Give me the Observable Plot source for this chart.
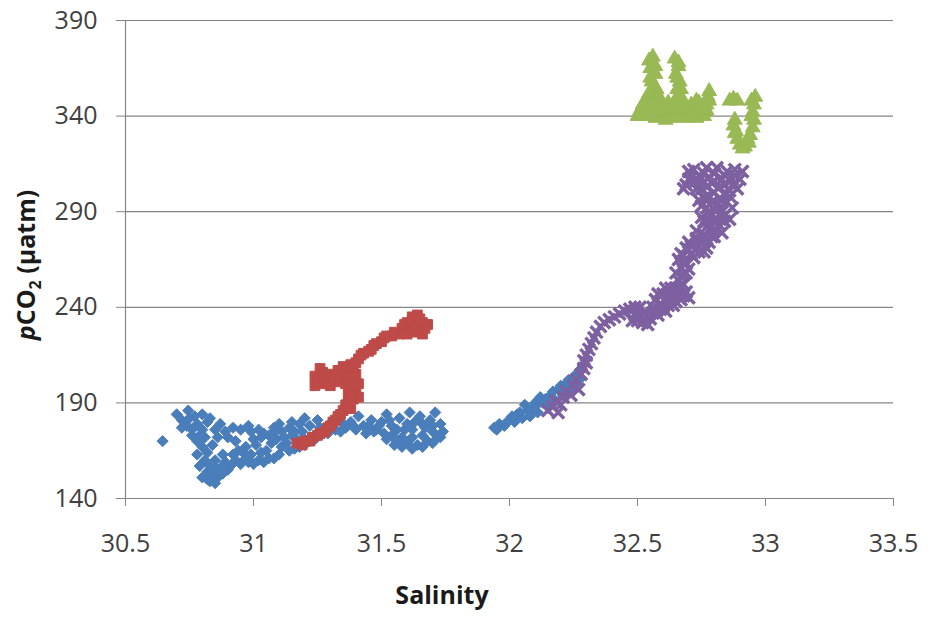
<!DOCTYPE html>
<html><head><meta charset="utf-8">
<script src="https://cdn.jsdelivr.net/npm/d3@7"></script>
<script src="https://cdn.jsdelivr.net/npm/@observablehq/plot@0.6"></script>
<style>body{margin:0;background:#fff;}</style>
</head><body><div id="chart"></div>
<script>
const xTicks = [30.5, 31, 31.5, 32, 32.5, 33, 33.5];
const yTicks = [140, 190, 240, 290, 340, 390];

// Series 1 (blue diamonds): [salinity, pCO2]
const blueSeries = [
  [30.645,170],[30.70,184],[30.72,181],[30.745,186],[30.77,183],[30.80,184],[30.82,180],[30.76,176],[30.79,173],
  [30.85,176],[30.89,175],[30.92,177],[30.95,176],[30.98,178],[30.87,179],[30.74,178],
  [30.78,170],[30.80,167],[30.78,163],[30.81,160],[30.79,157],[30.82,154],[30.80,151],[30.83,149],[30.85,148],
  [30.86,151],[30.84,153],[30.83,157],[30.82,164],[30.84,168],[30.81,172],
  [30.87,156],[30.89,159],[30.91,157],[30.93,160],[30.95,158],[30.97,161],[30.90,155],
  [30.98,159],[30.99,163],[30.97,167],[31.00,171],[30.99,175],
  [31.02,160],[31.03,164],[31.01,168],[31.03,172],[31.02,176],
  [31.06,161],[31.05,165],[31.07,169],[31.06,173],[31.08,177],
  [31.10,163],[31.11,167],[31.09,171],[31.11,175],[31.10,179],
  [31.14,165],[31.13,169],[31.15,173],[31.14,177],[31.15,180],
  [31.18,167],[31.17,171],[31.19,175],[31.18,179],[31.20,182],
  [30.72,177],[30.75,182],[30.78,179],[30.83,182],[30.80,176],[30.76,173],[30.86,172],[30.90,172],[30.93,170],
  [30.94,165],[30.96,164],[30.92,163],[30.88,163],[30.85,160],[30.82,150],[30.86,155],[30.88,153],[31.00,158],
  [31.04,159],[31.08,161],[31.04,174],[31.08,175],[31.12,172],[31.16,175],[31.20,171],[31.16,166],[31.20,168],
  [31.22,170],[31.24,171],
  [31.22,178],[31.25,181],[31.27,176],[31.30,179],[31.33,182],[31.36,177],[31.38,180],[31.41,183],[31.43,178],
  [31.46,181],[31.48,176],[31.50,180],[31.52,184],[31.54,178],[31.57,182],[31.59,176],[31.61,185],[31.63,180],
  [31.65,183],[31.67,177],[31.69,181],[31.71,185],[31.73,179],[31.74,175],[31.72,172],[31.70,175],[31.68,170],
  [31.66,173],[31.64,168],[31.62,172],[31.60,169],[31.58,172],[31.56,170],[31.54,173],[31.51,174],[31.47,175],
  [31.44,174],[31.40,176],[31.34,175],[31.29,174],[31.24,173],
  [31.26,177],[31.32,176],[31.35,179],[31.39,178],[31.45,178],[31.49,178],[31.53,181],[31.56,176],[31.60,179],
  [31.62,176],[31.66,179],[31.70,178],[31.58,167],[31.62,166],[31.66,167],[31.70,169],[31.73,172],[31.55,168],
  [31.52,171],
  [31.94,177],[31.96,179],[31.98,178],[32.00,181],[32.02,180],[32.03,184],[32.05,182],[32.07,186],[32.08,183],
  [32.10,188],[32.11,185],[32.13,190],[32.15,188],[32.16,194],[32.18,191],[32.19,197],[32.21,194],[32.22,200],
  [32.24,197],[32.25,203],[32.26,200],[32.27,206],[32.28,203],[32.06,189],[32.12,193],
  [31.95,176],[31.99,180],[32.01,183],[32.04,185],[32.09,187],[32.14,192],[32.17,196],[32.20,199],[32.23,202],
  [32.26,205],[32.28,208],[32.10,190]
];

// Series 2 (red squares)
const redSeries = [
  [31.17,169],[31.20,170],[31.23,172],[31.26,174],[31.29,177],[31.31,180],[31.33,183],[31.35,186],
  [31.36,189],[31.38,187],[31.39,192],[31.37,195],[31.40,197],[31.41,193],
  [31.24,199],[31.27,200],[31.30,199],[31.33,201],[31.36,200],[31.39,202],[31.24,204],[31.27,206],
  [31.30,205],[31.33,207],[31.36,206],[31.40,205],[31.30,202],
  [31.38,210],[31.41,213],[31.43,216],[31.46,218],[31.48,221],[31.51,224],[31.54,225],[31.57,226],
  [31.58,229],[31.61,228],[31.64,227],[31.67,229],[31.60,232],[31.63,231],[31.66,232],[31.62,235],[31.64,236],
  [31.19,168],[31.22,170],[31.25,173],[31.28,175],[31.30,178],[31.32,181],[31.34,184],[31.37,190],[31.38,194],
  [31.39,198],[31.25,201],[31.28,203],[31.34,204],[31.37,203],[31.41,200],[31.26,208],[31.35,209],[31.39,208],
  [31.40,211],[31.42,215],[31.45,217],[31.47,220],[31.50,222],[31.52,225],[31.55,227],[31.59,231],[31.62,233],
  [31.65,234],[31.68,231],[31.66,226],[31.60,226]
];

// Series 3 (green triangles)
const greenSeries = [
  [32.545,369],[32.56,371],[32.55,365],[32.57,362],[32.555,358],[32.575,354],[32.56,350],[32.58,347],
  [32.645,370],[32.66,366],[32.65,362],[32.665,358],[32.655,354],[32.67,350],[32.66,346],[32.675,342],
  [32.51,343],[32.52,346],[32.53,340],[32.55,343],[32.57,339],[32.59,341],[32.61,338],[32.62,342],[32.60,345],
  [32.63,339],[32.65,341],[32.68,339],[32.69,343],[32.70,340],[32.54,348],[32.50,340],
  [32.72,343],[32.73,339],[32.75,344],[32.76,340],[32.77,346],[32.775,350],[32.78,353],[32.765,342],[32.74,347],
  [32.86,348],[32.875,349],[32.89,348],
  [32.96,350],[32.955,346],[32.95,342],[32.955,338],[32.95,334],[32.94,330],[32.935,326],[32.92,324],
  [32.90,325],[32.89,328],[32.88,331],[32.875,335],
  [32.55,360],[32.57,366],[32.565,356],[32.58,351],[32.545,352],[32.66,368],[32.655,360],[32.67,354],[32.68,346],
  [32.655,350],[32.52,341],[32.56,345],[32.58,343],[32.61,343],[32.64,344],[32.67,344],[32.62,347],[32.71,346],
  [32.73,348],[32.77,343],[32.78,348],[32.945,340],[32.945,348],[32.93,328],[32.91,323],[32.885,332],[32.88,338]
];

// Series 4 (purple crosses)
const purpleSeries = [
  [32.15,186],[32.17,188],[32.18,191],[32.20,189],[32.21,193],[32.22,196],[32.24,194],[32.25,199],[32.26,202],
  [32.27,197],[32.28,205],[32.29,208],[32.30,211],[32.19,185],
  [32.29,212],[32.30,215],[32.31,218],[32.32,221],[32.33,224],[32.34,227],[32.355,230],[32.37,232],[32.39,233.5],
  [32.41,235],[32.43,236.5],[32.45,238],[32.47,239],
  [32.48,233],[32.50,236],[32.49,240],[32.52,232],[32.53,238],[32.55,234],[32.56,240],[32.58,236],[32.59,242],
  [32.61,238],[32.62,244],[32.60,247],[32.64,241],[32.65,247],[32.67,244],[32.66,250],[32.69,248],[32.68,252],
  [32.63,250],[32.57,244],[32.70,245],[32.54,231],
  [32.66,254],[32.68,257],[32.65,258],[32.67,261],[32.69,263],[32.66,265],
  [32.68,267],[32.70,270],[32.72,266],[32.74,272],[32.76,269],[32.78,274],[32.70,274],[32.73,276],[32.79,277],
  [32.76,278],[32.80,280],[32.78,284],[32.82,283],[32.75,287],[32.79,288],[32.83,290],[32.77,292],[32.81,294],
  [32.85,295],[32.74,296],[32.78,298],[32.84,299],[32.87,292],[32.86,286],
  [32.69,304],[32.71,308],[32.70,311],[32.73,302],[32.74,306],[32.76,310],[32.77,313],[32.80,310],[32.79,305],
  [32.82,303],[32.83,307],[32.85,311],[32.88,309],[32.87,304],[32.90,307],[32.89,302],[32.91,311],[32.72,312],
  [32.49,236],[32.51,240],[32.54,236],[32.57,238],[32.60,240],[32.63,245],[32.66,246],[32.64,248],[32.67,251],
  [32.69,258],[32.67,268],[32.71,272],[32.75,275],[32.77,271],[32.81,286],[32.84,285],[32.80,291],[32.76,297],
  [32.82,297],[32.80,300],[32.86,301],[32.75,302],[32.78,308],[32.81,313],[32.84,309],[32.72,305],
  [32.73,280],[32.77,282],[32.80,277],[32.83,279],[32.76,285],[32.80,284],[32.84,288],[32.78,290],[32.82,292],
  [32.75,293],[32.79,295],[32.83,296],[32.86,298],[32.77,303],[32.80,306],[32.84,304],[32.87,307],[32.74,309],
  [32.70,307],[32.68,302],[32.88,312],[32.65,250],[32.67,256],[32.70,260],[32.68,264],[32.71,268],[32.74,269],
  [32.69,271],[32.50,233],[32.53,234],[32.56,237],[32.59,239],[32.62,241],[32.65,243],[32.61,250],[32.58,247],
  [32.68,246]
];

const gridColor = "#868686";
const px = d => d[0], py = d => d[1];

const chart = Plot.plot({
  width: 933, height: 620,
  marginLeft: 125, marginRight: 40, marginTop: 20, marginBottom: 122,
  style: {fontFamily: "'Open Sans', sans-serif", fontSize: "25px", color: "#404040", background: "#fff"},
  x: {domain: [30.5, 33.5]},
  y: {domain: [140, 390]},
  marks: [
    Plot.ruleY(yTicks.slice(1), {stroke: gridColor, strokeWidth: 1.2}),
    Plot.dot(blueSeries, {x: px, y: py, symbol: "diamond2", fill: "#4a7ebb", stroke: "#4a7ebb", strokeWidth: 1, r: 5}),
    Plot.dot(redSeries, {x: px, y: py, symbol: "square", fill: "#be4b48", stroke: "#be4b48", strokeWidth: 1, r: 5.5}),
    Plot.dot(greenSeries, {x: px, y: py, symbol: "triangle", fill: "#98b954", stroke: "#98b954", strokeWidth: 1, r: 5.5}),
    Plot.dot(purpleSeries, {x: px, y: py, symbol: "times", stroke: "#7d60a0", strokeWidth: 3.4, r: 5.5}),
    Plot.ruleY([140], {stroke: gridColor, strokeWidth: 1.2}),
    Plot.ruleX([30.5], {stroke: gridColor, strokeWidth: 1.2}),
    Plot.axisX({ticks: xTicks, tickSize: 8, tickPadding: 28, stroke: gridColor, fill: "#404040", label: null, tickFormat: d => String(d)}),
    Plot.axisY({ticks: yTicks, tickSize: 9, tickPadding: 19, stroke: gridColor, fill: "#404040", label: null, tickFormat: d => String(d)})
  ]
});

const svg = d3.select(chart);
svg.append("text")
  .attr("x", 442).attr("y", 604)
  .attr("text-anchor", "middle")
  .attr("font-weight", "bold").attr("font-size", 25).attr("fill", "#1a1a1a")
  .text("Salinity");
const yl = svg.append("text")
  .attr("transform", "translate(35,265) rotate(-90)")
  .attr("text-anchor", "middle")
  .attr("font-weight", "bold").attr("font-size", 25).attr("fill", "#1a1a1a");
yl.append("tspan").attr("font-style", "italic").text("p");
yl.append("tspan").text("CO");
yl.append("tspan").attr("font-size", 16).attr("dy", 6).text("2");
yl.append("tspan").attr("dy", -6).text(" (µatm)");

document.getElementById("chart").appendChild(chart);
</script>
</body></html>
